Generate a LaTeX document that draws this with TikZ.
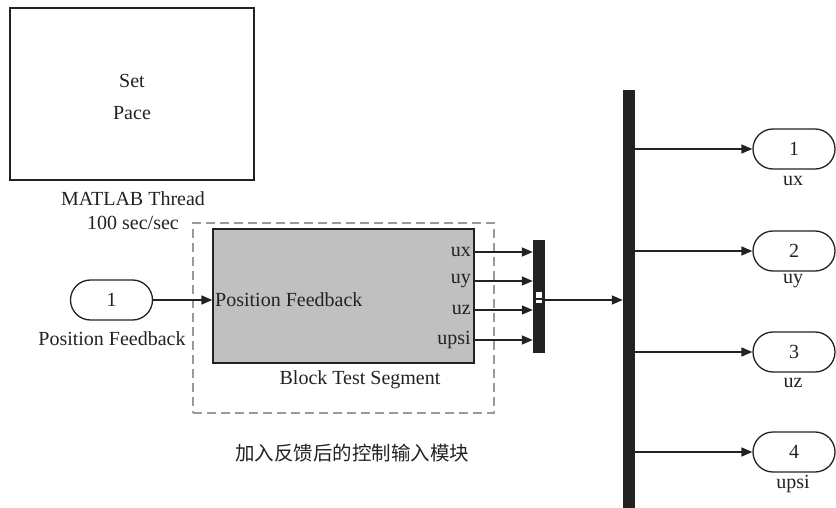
\documentclass[tikz,border=0pt]{standalone}
\usepackage{fontspec}
\setmainfont{Liberation Serif}
\newfontfamily\cjk{Noto Sans CJK SC}
\usetikzlibrary{arrows.meta,shapes.misc}
\definecolor{blockgray}{HTML}{C0C0C0}
\definecolor{dashgray}{HTML}{9A9A9A}
\definecolor{ink}{HTML}{222222}
\begin{document}
\begin{tikzpicture}[x=1pt,y=-1pt,
  font=\fontsize{20}{24}\selectfont,
  txt/.style={inner sep=0pt, text=ink},
  port/.style={draw=ink, line width=1.3pt, rounded rectangle, minimum width=82pt, minimum height=40pt, inner sep=0pt, text=ink},
  barnode/.style={draw=ink, fill=ink, inner sep=0pt, minimum width=11pt},
  sig/.style={draw=ink, line width=1.6pt, -{Triangle[length=11pt,width=9pt]}}
]
\useasboundingbox (0,0) rectangle (836,508);
% Set Pace block
\node[draw=ink, line width=1.3pt, minimum width=244pt, minimum height=172pt, inner sep=0pt] (pace) at (132,94) {};
\node[txt] (set) at (132,81) {Set};
\node[txt] (pacet) at (132,113) {Pace};
\node[txt] (mt) at (133,199) {MATLAB Thread};
\node[txt] (rate) at (133,223) {100 sec/sec};
% dashed subsystem boundary
\node[draw=dashgray, dashed, dash pattern=on 9pt off 5pt, line width=1.3pt, minimum width=301pt, minimum height=190pt, inner sep=0pt] (group) at (343.5,318) {};
% Block
\node[draw=ink, fill=blockgray, line width=1.3pt, minimum width=261pt, minimum height=134pt, inner sep=0pt] (blk) at (343.5,296) {};
\node[txt, anchor=west] (pfin) at (215,300) {Position Feedback};
\node[txt, anchor=east] (ux) at (471,252) {ux};
\node[txt, anchor=east] (uy) at (471,281) {uy};
\node[txt, anchor=east] (uz) at (471,310) {uz};
\node[txt, anchor=east] (upsi) at (471,340) {upsi};
\node[txt] (bts) at (360,380) {Block Test Segment};
% input port
\node[port] (in1) at (111.5,300) {1};
\node[txt] (in1l) at (112,339) {Position Feedback};
\draw[sig] (in1.east) -- (blk.west |- in1.east);
% mux
\node[barnode, minimum height=112pt] (mux) at (538.5,296) {};
\fill[white] (535.5,292) rectangle (541.5,298);
\fill[white] (535.5,300) rectangle (541.5,302.5);
\foreach \p in {ux,uy,uz,upsi}{
  \draw[sig] (blk.east |- \p.east) -- (mux.west |- \p.east);
}
% demux bar
\node[barnode, minimum height=418pt] (bar) at (628.5,299) {};
\coordinate (muxout) at (544,300);
\draw[sig] (muxout) -- (bar.west |- muxout);
% output ports
\node[port] (o1) at (794,149) {1};
\node[port] (o2) at (794,251) {2};
\node[port] (o3) at (794,352) {3};
\node[port] (o4) at (794,452) {4};
\node[txt] (o1l) at (793,181) {ux};
\node[txt] (o2l) at (793,281) {uy};
\node[txt] (o3l) at (793,383) {uz};
\node[txt] (o4l) at (793,484) {upsi};
\foreach \o in {o1,o2,o3,o4}{
  \draw[sig] (bar.east |- \o.west) -- (\o.west);
}
% caption
\node[txt, font=\cjk\fontsize{19.5}{22}\selectfont] (cap) at (352,453) {加入反馈后的控制输入模块};
\end{tikzpicture}
\end{document}
